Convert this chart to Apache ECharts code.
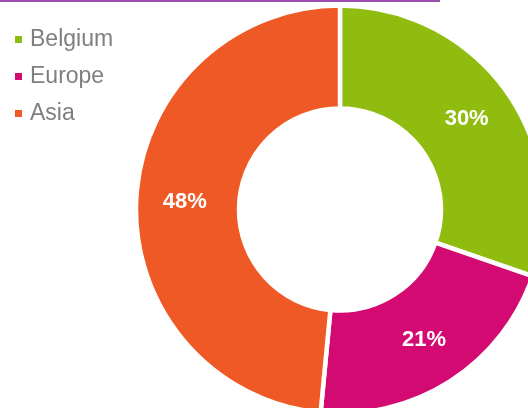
<!DOCTYPE html>
<html>
<head>
<meta charset="utf-8">
<script src="https://cdn.jsdelivr.net/npm/echarts@6/dist/echarts.min.js"></script>
<style>
html,body{margin:0;padding:0;background:#fff;}
#chart{width:528px;height:408px;}
</style>
</head>
<body>
<div id="chart"></div>
<script>
const categories = ['Belgium', 'Europe', 'Asia'];
const values = [30, 21, 48];
const colors = ['#8FBC0E', '#D30A72', '#EF5926'];

const chart = echarts.init(document.getElementById('chart'), null, {renderer: 'canvas'});
chart.setOption({
  animation: false,
  color: colors,
  graphic: [{
    type: 'rect',
    shape: {x: 0, y: 0, width: 440, height: 2},
    style: {fill: '#9B4FB0'}
  }],
  legend: {
    orient: 'vertical',
    left: 15,
    top: 28,
    padding: 0,
    icon: 'rect',
    itemWidth: 7,
    itemHeight: 7,
    itemGap: 14,
    data: categories,
    itemStyle: {borderWidth: 0},
    textStyle: {
      fontFamily: 'Liberation Sans, Arial, sans-serif',
      fontSize: 23,
      lineHeight: 23,
      color: '#7F7F7F',
      padding: [0, 0, 0, 3]
    }
  },
  series: [{
    type: 'pie',
    center: [340, 209.5],
    radius: [101, 204],
    startAngle: 90,
    clockwise: true,
    itemStyle: {borderColor: '#fff', borderWidth: 4.5},
    label: {
      show: true,
      position: 'inside',
      formatter: '{c}%',
      color: '#fff',
      fontWeight: 'bold',
      fontSize: 22,
      fontFamily: 'Liberation Sans, Arial, sans-serif'
    },
    labelLine: {show: false},
    emphasis: {disabled: true},
    data: categories.map((c, i) => ({name: c, value: values[i]}))
  }]
});
</script>
</body>
</html>
